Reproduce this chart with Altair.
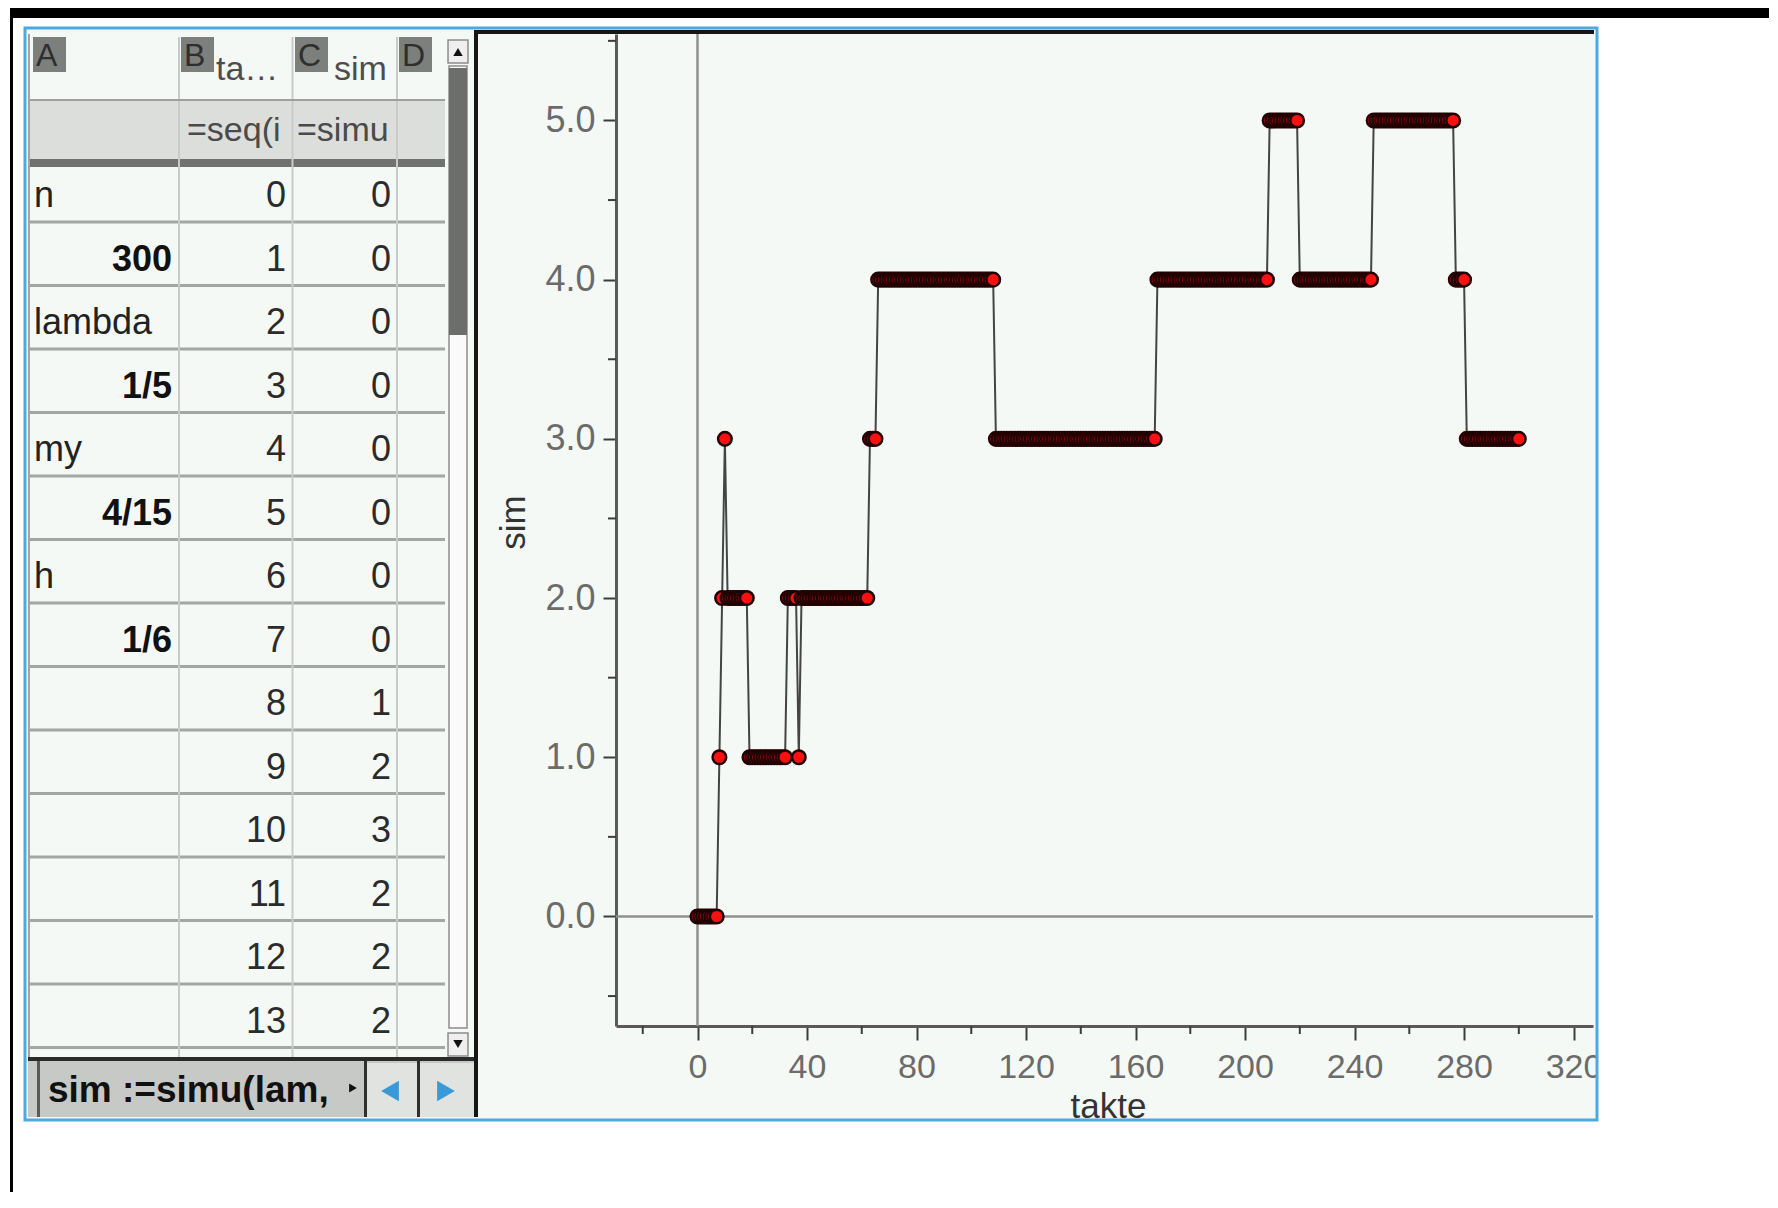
import altair as alt
import pandas as pd

# ---------------- chart data ----------------
takte = list(range(0, 301))
sim = ([0] * 8 + [1] + [2] + [3] + [2] * 8 + [1] * 14 + [2] * 4 + [1]
       + [2] * 25 + [3] * 3 + [4] * 43 + [3] * 59 + [4] * 41 + [5] * 11
       + [4] * 27 + [5] * 30 + [4] * 4 + [3] * 20)

x_ticks = [0, 40, 80, 120, 160, 200, 240, 280, 320]
x_minor = [-20, 20, 60, 100, 140, 180, 220, 260, 300]
y_ticks = [0, 1, 2, 3, 4, 5]
y_minor = [-0.5, 0.5, 1.5, 2.5, 3.5, 4.5, 5.5]

# spreadsheet contents
col_letters = ["A", "B", "C", "D"]
col_names = ["ta…", "sim"]
col_formulas = ["=seq(i", "=simu"]
a_labels = ["n", "lambda", "my", "h"]
a_values = ["300", "1/5", "4/15", "1/6"]
visible_rows = 14
entry_line = "sim :=simu(lam,"

# ---------------- layout (page pixels) ----------------
FONT = "Liberation Sans"
OX, OY = 616, 34          # plot origin on the page
W, H = 977, 992           # plot area
PAD = {"left": OX - 8, "top": OY - 8, "right": 176, "bottom": 166}
R = 8 + PAD["left"] + W + PAD["right"]    # right edge of svg on page
B = 8 + PAD["top"] + H + PAD["bottom"]    # bottom edge of svg on page


def rects(rows, stroke=None, sw=0):
    df = pd.DataFrame(rows, columns=["x", "y", "x2", "y2", "c"])
    df[["x", "x2"]] = df[["x", "x2"]] - OX
    df[["y", "y2"]] = df[["y", "y2"]] - OY
    if stroke is None:
        mk = alt.Chart(df).mark_rect(strokeWidth=0)
        col = alt.Fill("c:N", scale=None)
    else:
        mk = alt.Chart(df).mark_rect(strokeWidth=sw, fillOpacity=0)
        col = alt.Stroke("c:N", scale=None)
    return mk.encode(
        x=alt.X("x:Q", scale=None, axis=None), x2="x2:Q",
        y=alt.Y("y:Q", scale=None, axis=None), y2="y2:Q",
        **({"fill": col} if stroke is None else {"stroke": col}))


def filled_outline(rows, fill, stroke, sw):
    a = rects([r + (fill,) for r in rows])
    b = rects([r + (stroke,) for r in rows], stroke=True, sw=sw)
    return [a, b]


def rules(rows):
    df = pd.DataFrame(rows, columns=["x", "y", "x2", "y2", "c", "w"])
    df[["x", "x2"]] = df[["x", "x2"]] - OX
    df[["y", "y2"]] = df[["y", "y2"]] - OY
    return alt.Chart(df).mark_rule().encode(
        x=alt.X("x:Q", scale=None, axis=None), x2="x2:Q",
        y=alt.Y("y:Q", scale=None, axis=None), y2="y2:Q",
        color=alt.Color("c:N", scale=None),
        strokeWidth=alt.StrokeWidth("w:Q", scale=None))


def texts(rows, align="left", weight="normal", size=36):
    df = pd.DataFrame(rows, columns=["x", "y", "t", "c"])
    df["t"] = df["t"].astype(str)
    df["x"] = df["x"] - OX
    df["y"] = df["y"] - OY
    return alt.Chart(df).mark_text(
        align=align, baseline="alphabetic", fontSize=size,
        fontWeight=weight, font=FONT).encode(
        x=alt.X("x:Q", scale=None, axis=None),
        y=alt.Y("y:Q", scale=None, axis=None),
        text="t:N", color=alt.Color("c:N", scale=None))


def glyphs(rows):
    df = pd.DataFrame(rows, columns=["x", "y", "s", "z", "c"])
    df["x"] = df["x"] - OX
    df["y"] = df["y"] - OY
    return alt.Chart(df).mark_point(filled=True, opacity=1, strokeWidth=0).encode(
        x=alt.X("x:Q", scale=None, axis=None),
        y=alt.Y("y:Q", scale=None, axis=None),
        shape=alt.Shape("s:N", scale=None),
        size=alt.Size("z:Q", scale=None),
        color=alt.Color("c:N", scale=None))


def row_base(k):
    return 207 + 63.5 * k


# ---------------- decoration: screen frame and spreadsheet ----------------
decor = []
decor.append(rects([
    (8, 8, R, 28, "#ffffff"),
    (8, 8, 25, B, "#ffffff"),
    (1598, 8, R, B, "#ffffff"),
    (8, 1121, R, B, "#ffffff"),
    (10, 8, R, 18, "#000000"),
    (10, 8, 13, B, "#000000"),
    # table left edge, formula row, thick divider
    (28, 34, 30, 1058, "#a2a4a2"),
    (30, 101, 445, 159, "#dcdedc"),
    (30, 159, 445, 167, "#707270"),
    # column letter boxes
    (33, 37, 66, 72, "#7d7f7d"),
    (181, 37, 214, 72, "#7d7f7d"),
    (295, 37, 328, 72, "#7d7f7d"),
    (399, 37, 432, 72, "#7d7f7d"),
    # graph panel border
    (474, 30, 478, 1117, "#161616"),
    (474, 30, 1594, 34, "#161616"),
    # entry line bar
    (28, 1061, 474, 1117, "#c7c9c7"),
    (366, 1063, 474, 1117, "#e1e3e1"),
    (28, 1057, 474, 1061, "#2a2a2a"),
    (37, 1061, 40, 1117, "#5a5a5a"),
    (364, 1061, 367, 1117, "#2f2f2f"),
    (417, 1061, 420, 1117, "#2f2f2f"),
]))

sep_rows = [(30, 222 + 63.5 * k, 445, 222 + 63.5 * k, "#a4a6a4", 3)
            for k in range(visible_rows)]
sep_cols = [(x, 37, x, 1057, "#c9cbc9", 2) for x in (179, 292.5, 397)]
decor.append(rules(sep_rows + sep_cols + [(30, 100, 445, 100, "#a0a0a0", 2)]))

# scrollbar
decor += filled_outline([(449, 66, 467, 1028)], "#fafafa", "#8c8c8c", 1.5)
decor.append(rects([(449, 68, 467, 335, "#6c6e6c")]))
decor += filled_outline([(448, 40, 468, 63), (448, 1033, 468, 1056)],
                        "#efefef", "#8c8c8c", 1.5)
decor.append(glyphs([
    (458, 52, "triangle-up", 90, "#111111"),
    (458, 1044, "triangle-down", 90, "#111111"),
    (353, 1088, "triangle-right", 80, "#111111"),
    (390, 1091, "triangle-left", 420, "#3a9ad8"),
    (446, 1091, "triangle-right", 420, "#3a9ad8"),
]))

# spreadsheet text
letter_x = [36, 184, 298, 402]
decor.append(texts([(letter_x[i], 66, col_letters[i], "#2e2e2e")
                    for i in range(4)], size=32))
decor.append(texts([(216, 80, col_names[0], "#4d4d4d"),
                    (334, 80, col_names[1], "#4d4d4d")], size=34))
decor.append(texts([(187, 141, col_formulas[0], "#4a4a4a"),
                    (297, 141, col_formulas[1], "#4a4a4a")], size=34))
decor.append(texts(
    [(286, row_base(k), takte[k], "#2b2b2b") for k in range(visible_rows)]
    + [(391, row_base(k), sim[k], "#2b2b2b") for k in range(visible_rows)],
    align="right"))
decor.append(texts([(34, row_base(2 * i), a_labels[i], "#222222")
                    for i in range(4)]))
decor.append(texts([(172, row_base(2 * i + 1), a_values[i], "#111111")
                    for i in range(4)], align="right", weight="bold"))
decor.append(texts([(48, 1102, entry_line, "#111111")], weight="bold", size=37))

# blue frame (on top)
decor_top = [rects([(25, 28, 1597, 1120, "#4fa9df")], stroke=True, sw=3)]

# ---------------- the graph ----------------
gdf = pd.DataFrame({"takte": takte, "sim": sim})
xs = alt.Scale(domain=[-29.77, 327.1], nice=False, zero=False)
ys = alt.Scale(domain=[-0.688, 5.543], nice=False, zero=False)

common = dict(grid=False, domainColor="#595959", domainWidth=3,
              tickColor="#3c3c3c", tickWidth=2, labelFont=FONT,
              labelColor="#6b6b6b", labelFlush=False,
              labelOverlap=False, titleFont=FONT, titleFontSize=35,
              titleFontWeight="normal", titleColor="#333333",
              titleBaseline="alphabetic", titleAlign="center", zindex=0)
x_axis = alt.Axis(values=x_ticks, format="d", title="takte", tickSize=14,
                  labelFontSize=34, labelPadding=10, titleX=492, titleY=91,
                  **common)
y_axis = alt.Axis(values=y_ticks, format=".1f", title="sim", tickSize=13,
                  labelFontSize=36, labelPadding=8, titleAngle=270,
                  titleX=-92, titleY=488, **common)

zero_h = alt.Chart(pd.DataFrame({"sim": [0]})).mark_rule(
    color="#8f8f8f", strokeWidth=2.5).encode(y=alt.Y("sim:Q", scale=ys))
zero_v = alt.Chart(pd.DataFrame({"takte": [0]})).mark_rule(
    color="#8f8f8f", strokeWidth=2.5).encode(x=alt.X("takte:Q", scale=xs))
minor_x = alt.Chart(pd.DataFrame({"takte": x_minor})).mark_rule(
    color="#3c3c3c", strokeWidth=2).encode(
    x=alt.X("takte:Q", scale=xs), y=alt.value(H), y2=alt.value(H + 8))
minor_y = alt.Chart(pd.DataFrame({"sim": y_minor})).mark_rule(
    color="#3c3c3c", strokeWidth=2).encode(
    y=alt.Y("sim:Q", scale=ys), x=alt.value(-8), x2=alt.value(0))
line = alt.Chart(gdf).mark_line(color="#444444", strokeWidth=2).encode(
    x=alt.X("takte:Q", scale=xs, axis=x_axis),
    y=alt.Y("sim:Q", scale=ys, axis=y_axis))
pts = alt.Chart(gdf).mark_circle(
    size=185, color="#ff1010", opacity=1, stroke="#220000",
    strokeWidth=2.5).encode(x=alt.X("takte:Q", scale=xs),
                            y=alt.Y("sim:Q", scale=ys))

graph = alt.layer(line, zero_h, zero_v, minor_x, minor_y, pts)

chart = alt.layer(*decor, graph, *decor_top).resolve_scale(
    x="independent", y="independent"
).properties(
    width=W, height=H, padding=PAD,
    autosize=alt.AutoSizeParams(type="none"),
).configure(background="#f5f9f6").configure_view(stroke=None)

chart.save("out.html", embed_options={"renderer": "svg", "actions": False})
